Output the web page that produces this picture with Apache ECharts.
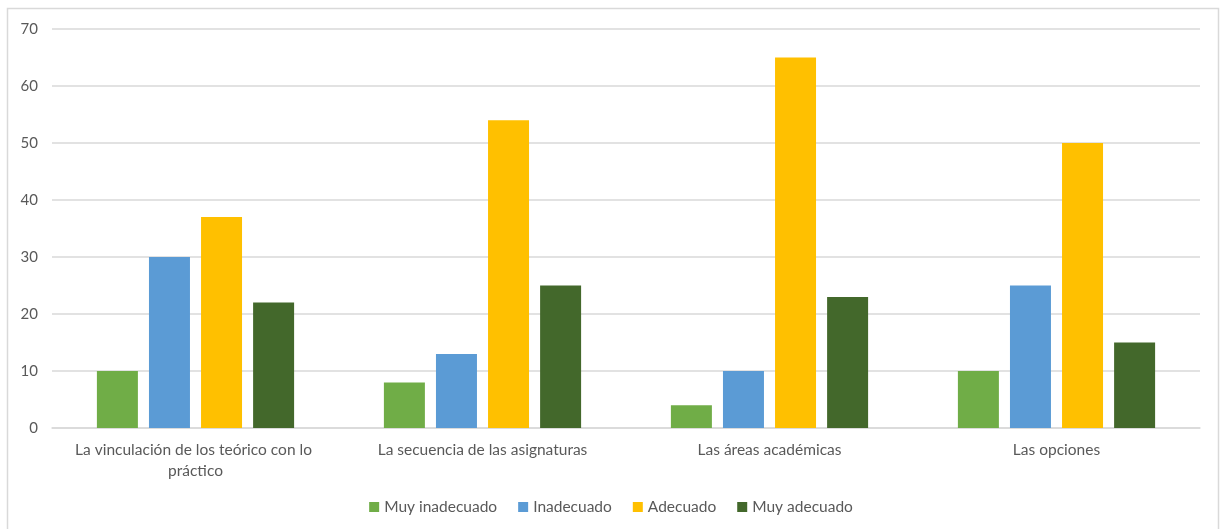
<!DOCTYPE html>
<html>
<head>
<meta charset="utf-8">
<script src="https://cdn.jsdelivr.net/npm/echarts@6/dist/echarts.min.js"></script>
<style>
  html, body { margin: 0; padding: 0; background: #fff; }
  #chart { width: 1222px; height: 529px; }
</style>
</head>
<body>
<div id="chart"></div>
<script>
// Categories along the x axis
const categories = [
  'La vinculación de los teórico con lo práctico',
  'La secuencia de las asignaturas',
  'Las áreas académicas',
  'Las opciones'
];

// Series values, one array per rating
const muyInadecuado = [10, 8, 4, 10];
const inadecuado = [30, 13, 10, 25];
const adecuado = [37, 54, 65, 50];
const muyAdecuado = [22, 25, 23, 15];

const seriesNames = ['Muy inadecuado', 'Inadecuado', 'Adecuado', 'Muy adecuado'];
const seriesData = [muyInadecuado, inadecuado, adecuado, muyAdecuado];
const seriesColors = ['#70AD47', '#5B9BD5', '#FFC000', '#43682B'];

const FONT = 'Lato, "Open Sans", sans-serif';

const chart = echarts.init(document.getElementById('chart'), null, { renderer: 'canvas' });

chart.setOption({
  animation: false,
  backgroundColor: '#ffffff',
  textStyle: { fontFamily: FONT },
  graphic: [{
    type: 'rect',
    shape: { x: 7.5, y: 8.5, width: 1211, height: 540 },
    style: { fill: 'none', stroke: '#d9d9d9', lineWidth: 1.5 },
    silent: true,
    z: -1
  }],
  grid: { left: 52, right: 22, top: 29, bottom: 101, containLabel: false },
  legend: {
    bottom: 9,
    left: 'center',
    itemWidth: 10,
    itemHeight: 10,
    itemGap: 21,
    icon: 'rect',
    textStyle: { color: '#595959', fontSize: 15.5, fontFamily: FONT },
    data: seriesNames
  },
  xAxis: {
    type: 'category',
    data: categories,
    axisTick: { show: false },
    axisLine: { lineStyle: { color: '#d9d9d9', width: 1.5 } },
    axisLabel: {
      color: '#595959',
      fontSize: 15.5,
      fontFamily: FONT,
      margin: 11,
      lineHeight: 21,
      width: 262,
      overflow: 'break',
      interval: 0
    }
  },
  yAxis: {
    type: 'value',
    min: 0,
    max: 70,
    interval: 10,
    axisLine: { show: false },
    axisTick: { show: false },
    splitLine: { lineStyle: { color: '#d9d9d9', width: 1.5 } },
    axisLabel: { color: '#595959', fontSize: 15, fontFamily: FONT, margin: 14 }
  },
  series: seriesNames.map((name, i) => ({
    name: name,
    type: 'bar',
    data: seriesData[i],
    barWidth: 41,
    barGap: '27%',
    itemStyle: { color: seriesColors[i] }
  }))
});
</script>
</body>
</html>
